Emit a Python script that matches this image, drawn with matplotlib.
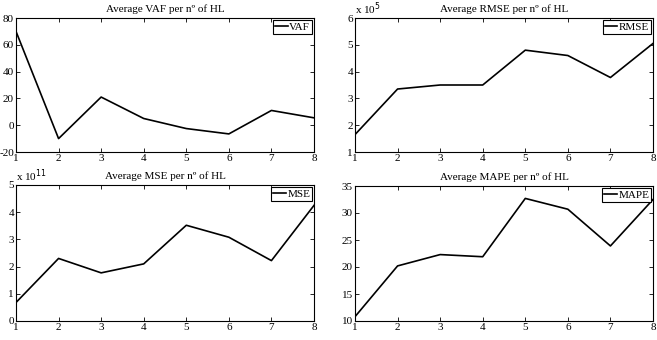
import numpy as np
import matplotlib
matplotlib.use('Agg')
import matplotlib.pyplot as plt

plt.rcParams['font.family'] = ['Liberation Serif', 'DejaVu Serif']
plt.rcParams['font.size'] = 8
plt.rcParams['axes.linewidth'] = 0.8
plt.rcParams['axes.unicode_minus'] = False

hl = [1, 2, 3, 4, 5, 6, 7, 8]
vaf = [70, -10, 21, 5, -2.5, -6.5, 11, 5.5]
rmse = [1.65e5, 3.35e5, 3.5e5, 3.5e5, 4.8e5, 4.6e5, 3.78e5, 5.05e5]
mse = [0.68e11, 2.3e11, 1.77e11, 2.1e11, 3.52e11, 3.08e11, 2.22e11, 4.25e11]
mape = [10.8, 20.2, 22.3, 21.9, 32.7, 30.7, 23.9, 32.5]

# name, values, ylim, yticks, exponent
panels = [
    ('VAF', vaf, (-20, 80), [-20, 0, 20, 40, 60, 80], 0),
    ('RMSE', rmse, (1, 6), [1, 2, 3, 4, 5, 6], 5),
    ('MSE', mse, (0, 5), [0, 1, 2, 3, 4, 5], 11),
    ('MAPE', mape, (10, 35), [10, 15, 20, 25, 30, 35], 0),
]

fig = plt.figure(figsize=(6.57, 3.4), dpi=100)
W, H = 657.0, 340.0
boxes = [(16, 18, 314, 152), (355, 18, 653, 152),
         (16, 185, 314, 321), (355, 186, 653, 321)]

for (name, vals, ylim, yt, ex), (x0, y0, x1, y1) in zip(panels, boxes):
    ax = fig.add_axes([x0 / W, 1 - y1 / H, (x1 - x0) / W, (y1 - y0) / H])
    v = np.array(vals) / 10.0 ** ex
    ax.plot(hl, v, color='black', lw=1.2, label=name)
    ax.set_xlim(1, 8)
    ax.set_ylim(*ylim)
    ax.set_xticks(hl)
    ax.set_yticks(yt)
    ax.tick_params(direction='in', top=True, right=True, length=3,
                   width=0.6, labelsize=8, pad=1.5)
    ax.set_title('Average %s per n\u00ba of HL' % name, fontsize=8, pad=4)
    if ex:
        ax.text(0.0, 1.005, 'x 10$^{%d}$' % ex, transform=ax.transAxes,
                fontsize=8, ha='left', va='bottom')
    leg = ax.legend(loc='upper right', fontsize=8, fancybox=False,
                    framealpha=1, edgecolor='black', handlelength=1.1,
                    handletextpad=0.15, borderpad=0.2, borderaxespad=0.15)
    leg.get_frame().set_linewidth(0.8)

fig.savefig('out.png', dpi=100)
